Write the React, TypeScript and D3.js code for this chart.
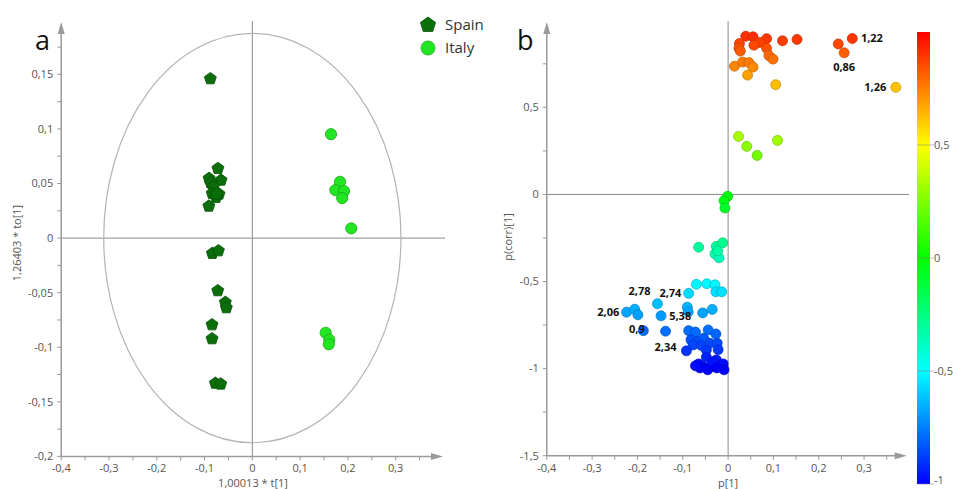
import React from "react";
import * as d3 from "d3";

// ---------- Panel a data (scores) ----------
const spainX = [-0.0879, -0.072, -0.0906, -0.0655, -0.087, -0.0816, -0.084, -0.0697, -0.076, -0.091, -0.075, -0.0837, -0.071, -0.0724, -0.0565, -0.0544, -0.0843, -0.0843, -0.0774, -0.0661];
const spainY = [0.146, 0.0638, 0.0547, 0.0531, 0.0506, 0.047, 0.041, 0.0403, 0.0372, 0.0293, 0.0403, -0.014, -0.0116, -0.0482, -0.0589, -0.0638, -0.0794, -0.0922, -0.133, -0.1337];
const italyX = [0.1646, 0.1835, 0.1737, 0.1918, 0.188, 0.207, 0.1535, 0.161, 0.16];
const italyY = [0.0952, 0.0516, 0.044, 0.043, 0.0366, 0.0089, -0.0867, -0.0931, -0.0973];
const legendNames = ["Spain", "Italy"];
const aXTicks = [-0.4, -0.3, -0.2, -0.1, 0, 0.1, 0.2, 0.3];
const aYTicks = [-0.2, -0.15, -0.1, -0.05, 0, 0.05, 0.1, 0.15];
const ellipseR = [0.311, 0.1875];

// ---------- Panel b data (loadings) ----------
const loadX = [0.039, 0.055, 0.085, 0.07, 0.12, 0.152, 0.025, 0.024, 0.057, 0.085, 0.027, 0.09, 0.099, 0.014, 0.032, 0.046, 0.055, 0.043, 0.105, 0.243, 0.274, 0.256, 0.37,
  0.023, 0.041, 0.064, 0.109, -0.001, -0.009, -0.007,
  -0.065, -0.026, -0.012, -0.029, -0.02, -0.023,
  -0.087, -0.07, -0.047, -0.029, -0.027, -0.014,
  -0.224, -0.206, -0.199, -0.156, -0.148, -0.09, -0.088, -0.056, -0.035,
  -0.187, -0.138, -0.087, -0.072, -0.044, -0.027, -0.082, -0.068, -0.054, -0.077, -0.059, -0.04, -0.024, -0.092, -0.048, -0.022,
  -0.065, -0.055, -0.048, -0.04, -0.026, -0.018, -0.011, -0.034, -0.062, -0.025, -0.009, -0.045, -0.072];
const loadY = [0.908, 0.905, 0.894, 0.873, 0.882, 0.89, 0.866, 0.84, 0.857, 0.839, 0.823, 0.797, 0.777, 0.736, 0.76, 0.757, 0.731, 0.685, 0.63, 0.864, 0.895, 0.813, 0.615,
  0.333, 0.276, 0.224, 0.31, -0.011, -0.036, -0.078,
  -0.303, -0.298, -0.278, -0.341, -0.364, -0.324,
  -0.568, -0.516, -0.513, -0.519, -0.559, -0.559,
  -0.676, -0.659, -0.691, -0.628, -0.697, -0.647, -0.674, -0.68, -0.66,
  -0.782, -0.785, -0.782, -0.79, -0.778, -0.801, -0.835, -0.844, -0.826, -0.864, -0.867, -0.854, -0.854, -0.898, -0.893, -0.891,
  -0.973, -0.989, -0.934, -0.989, -0.95, -0.984, -0.973, -0.962, -0.996, -0.996, -1.007, -1.007, -0.984];
const labelText = ["1,22", "0,86", "1,26", "2,78", "2,74", "2,06", "5,38", "0,9", "2,34"];
const labelX = [0.293, 0.256, 0.349, -0.171, -0.103, -0.24, -0.13, -0.184, -0.138];
const labelY = [0.896, 0.728, 0.617, -0.556, -0.565, -0.675, -0.697, -0.772, -0.874];
const labelAnchor = ["start", "middle", "end", "end", "end", "end", "start", "end", "middle"];
const bXTicks = [-0.4, -0.3, -0.2, -0.1, 0, 0.1, 0.2, 0.3];
const bYTicks = [-1.5, -1, -0.5, 0, 0.5];
const cbTicks = [-1, -0.5, 0, 0.5];
const cbStops = [-1, -0.5, 0, 0.5, 1];
const cbColors = ["#0000ff", "#00ffff", "#00ff00", "#ffff00", "#ff0000"];

const fmt = (v: number) => (Math.abs(v) < 1e-9 ? "0" : String(+v.toFixed(3)).replace(".", ","));
const FONT = "'Open Sans', 'DejaVu Sans', sans-serif";
const AXIS = "#9a9a9a";
const TICKTXT = "#555";

function pentagon(cx: number, cy: number, r: number) {
  const pts: string[] = [];
  for (let i = 0; i < 5; i++) {
    const a = -Math.PI / 2 + (i * 2 * Math.PI) / 5;
    pts.push(`${(cx + r * Math.cos(a)).toFixed(2)},${(cy + r * Math.sin(a)).toFixed(2)}`);
  }
  return "M" + pts.join("L") + "Z";
}

function Axes({ x, y, xTicks, yTicks, xMinor, yMinor, xLeft, yBottom, xEnd, yTop }: any) {
  const x0 = x(xLeft);
  const y0 = y(yBottom);
  const minorX = d3.range(xLeft, xEnd - 1e-9, xMinor);
  const minorY = d3.range(yBottom, yTop - 1e-9, yMinor);
  const xr = x.range()[1];
  const yr = y.range()[1];
  return (
    <g>
      <line x1={x0} x2={xr - 6} y1={y0} y2={y0} stroke={AXIS} strokeWidth={1.5} />
      <path d={`M${xr},${y0}L${xr - 12},${y0 - 3.5}L${xr - 12},${y0 + 3.5}Z`} fill={AXIS} />
      <line x1={x0} x2={x0} y1={y0} y2={yr + 6} stroke={AXIS} strokeWidth={1.5} />
      <path d={`M${x0},${yr}L${x0 - 3.5},${yr + 12}L${x0 + 3.5},${yr + 12}Z`} fill={AXIS} />
      {minorX.map((v: number, i: number) => (
        <line key={"mx" + i} x1={x(v)} x2={x(v)} y1={y0} y2={y0 + 4} stroke={AXIS} />
      ))}
      {minorY.map((v: number, i: number) => (
        <line key={"my" + i} x1={x0 - 4} x2={x0} y1={y(v)} y2={y(v)} stroke={AXIS} />
      ))}
      {xTicks.map((v: number) => (
        <text key={"xt" + v} x={x(v)} y={y0 + 16} textAnchor="middle" fontSize={11} fill={TICKTXT} fontFamily={FONT}>
          {fmt(v)}
        </text>
      ))}
      {yTicks.map((v: number) => (
        <text key={"yt" + v} x={x0 - 8} y={y(v)} dy="0.35em" textAnchor="end" fontSize={11} fill={TICKTXT} fontFamily={FONT}>
          {fmt(v)}
        </text>
      ))}
    </g>
  );
}

export default function App() {
  // Panel a scales
  const ax = d3.scaleLinear().domain([-0.4, 0.399]).range([61.2, 443]);
  const ay = d3.scaleLinear().domain([-0.2, 0.198]).range([456.4, 22]);
  // Panel b scales
  const bx = d3.scaleLinear().domain([-0.4, 0.394]).range([546.8, 906.7]);
  const by = d3.scaleLinear().domain([-1.5, 0.99]).range([455.7, 22]);
  const color = d3.scaleLinear<string>().domain(cbStops).range(cbColors).interpolate(d3.interpolateRgb);
  const cbY = d3.scaleLinear().domain([-1, 1]).range([484, 32]);

  const cx0 = ax(0), cy0 = ay(0);
  const rx = ax(ellipseR[0]) - cx0;
  const ry = cy0 - ay(ellipseR[1]);

  return (
    <svg width={953} height={489} style={{ position: "absolute", left: 0, top: 0, background: "#fff" }} fontFamily={FONT}>
      <defs>
        <linearGradient id="cbar" x1="0" y1="1" x2="0" y2="0">
          {cbStops.map((s, i) => (
            <stop key={i} offset={`${((s + 1) / 2) * 100}%`} stopColor={cbColors[i]} />
          ))}
        </linearGradient>
      </defs>

      {/* ---------- Panel a ---------- */}
      <text x={35} y={50} fontSize={27} fill="#111">a</text>
      <line x1={cx0} x2={cx0} y1={21} y2={ay(-0.2)} stroke="#8a8a8a" strokeWidth={1} />
      <line x1={ax(-0.4)} x2={445} y1={cy0} y2={cy0} stroke="#8a8a8a" strokeWidth={1} />
      <ellipse cx={cx0} cy={cy0} rx={rx} ry={ry} fill="none" stroke="#b4b4b4" strokeWidth={1.2} />
      <Axes x={ax} y={ay} xTicks={aXTicks} yTicks={aYTicks} xMinor={0.05} yMinor={0.025} xLeft={-0.4} yBottom={-0.2} xEnd={0.4} yTop={0.2} />
      {spainX.map((v, i) => (
        <path key={"s" + i} d={pentagon(ax(v), ay(spainY[i]), 6.3)} fill="#0b6e0b" stroke="#075007" strokeWidth={0.8} strokeLinejoin="round" />
      ))}
      {italyX.map((v, i) => (
        <circle key={"it" + i} cx={ax(v)} cy={ay(italyY[i])} r={5.6} fill="#22e622" stroke="#16a816" strokeWidth={0.8} />
      ))}
      <text x={0} y={0} transform={`translate(21,243) rotate(-90)`} textAnchor="middle" fontSize={11} fill={TICKTXT}>
        1,26403 * to[1]
      </text>
      <text x={253} y={487} textAnchor="middle" fontSize={11} fill={TICKTXT}>1,00013 * t[1]</text>
      {/* legend */}
      <path d={pentagon(428, 25, 8)} fill="#0b6e0b" stroke="#075007" strokeWidth={0.8} strokeLinejoin="round" />
      <circle cx={428} cy={48} r={7} fill="#22e622" stroke="#16a816" strokeWidth={0.8} />
      <text x={445} y={25} dy="0.35em" fontSize={15} fill="#333">{legendNames[0]}</text>
      <text x={445} y={48} dy="0.35em" fontSize={15} fill="#333">{legendNames[1]}</text>

      {/* ---------- Panel b ---------- */}
      <text x={517} y={50} fontSize={27} fill="#111">b</text>
      <line x1={bx(0)} x2={bx(0)} y1={21} y2={by(-1.5)} stroke="#8a8a8a" strokeWidth={1} />
      <line x1={bx(-0.4)} x2={909} y1={by(0)} y2={by(0)} stroke="#8a8a8a" strokeWidth={1} />
      <Axes x={bx} y={by} xTicks={bXTicks} yTicks={bYTicks} xMinor={0.05} yMinor={0.25} xLeft={-0.4} yBottom={-1.5} xEnd={0.39} yTop={0.99} />
      {loadX.map((v, i) => {
        const f = color(Math.max(-1, Math.min(1, loadY[i])));
        return (
          <circle key={"l" + i} cx={bx(v)} cy={by(loadY[i])} r={5} fill={f} stroke={d3.color(f)!.darker(0.8).formatHex()} strokeWidth={0.7} />
        );
      })}
      {labelText.map((t, i) => (
        <text key={"lb" + i} x={bx(labelX[i])} y={by(labelY[i])} dy="0.35em" textAnchor={labelAnchor[i]} fontSize={11} fontWeight="bold" fill="#111">
          {t}
        </text>
      ))}
      <text x={0} y={0} transform={`translate(512,237) rotate(-90)`} textAnchor="middle" fontSize={11} fill={TICKTXT}>
        p(corr)[1]
      </text>
      <text x={bx(0)} y={487} textAnchor="middle" fontSize={11} fill={TICKTXT}>p[1]</text>

      {/* colour bar */}
      <rect x={917} y={cbY(1)} width={13} height={cbY(-1) - cbY(1)} fill="url(#cbar)" />
      {cbTicks.map((v) => (
        <g key={"cb" + v}>
          <line x1={917} x2={934} y1={cbY(v)} y2={cbY(v)} stroke="#777" strokeOpacity={0.5} />
          <text x={934} y={Math.min(cbY(v), 480)} dy="0.35em" fontSize={11} fill={TICKTXT}>{fmt(v)}</text>
        </g>
      ))}
    </svg>
  );
}
